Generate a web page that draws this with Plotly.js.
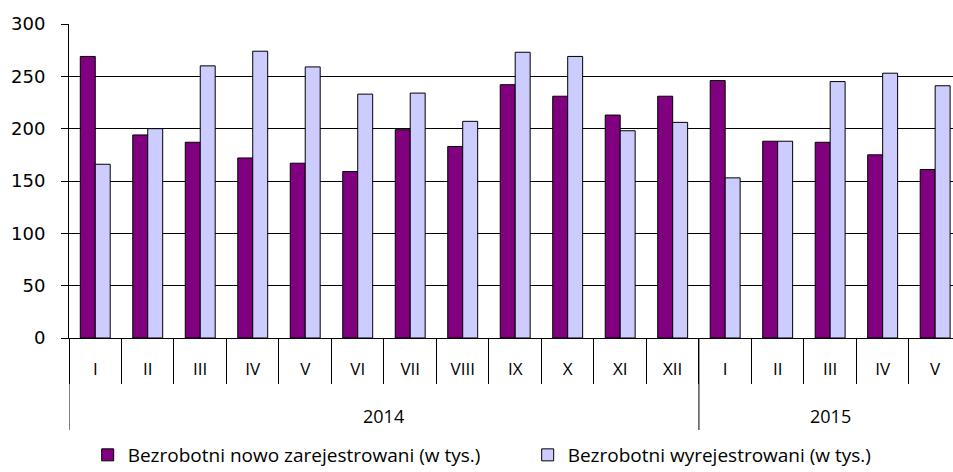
<!DOCTYPE html>
<html>
<head>
<meta charset="utf-8">
<script src="https://cdn.plot.ly/plotly-3.0.1.min.js"></script>
<style>html,body{margin:0;padding:0;background:#fff;}#chart{width:953px;height:472px;}</style>
</head>
<body>
<div id="chart"></div>
<script>
const years = ["2014","2014","2014","2014","2014","2014","2014","2014","2014","2014","2014","2014","2015","2015","2015","2015","2015"];
const months = ["I","II","III","IV","V","VI","VII","VIII","IX","X","XI","XII","I","II","III","IV","V"];
const nowoZarejestrowani = [269, 194, 187, 172, 167, 159, 199, 183, 242, 231, 213, 231, 246, 188, 187, 175, 161];
const wyrejestrowani = [166, 200, 260, 274, 259, 233, 234, 207, 273, 269, 198, 206, 153, 188, 245, 253, 241];
const seriesNames = ["Bezrobotni nowo zarejestrowani (w tys.)", "Bezrobotni wyrejestrowani (w tys.)"];

const idx = months.map((m, i) => i);
const boundaries = idx.map(i => i - 0.5).concat([months.length - 0.5]);

// year groups
const yearList = [...new Set(years)];
const groups = yearList.map(y => {
  const ii = idx.filter(i => years[i] === y);
  return {year: y, first: ii[0], last: ii[ii.length - 1], mid: (ii[0] + ii[ii.length - 1]) / 2};
});

const labelFont = "Open Sans, Noto Sans, sans-serif";

const traces = [
  {type:"bar", name:seriesNames[0], x:idx, y:nowoZarejestrowani,
   marker:{color:"#800080", line:{color:"#000000", width:1}}},
  {type:"bar", name:seriesNames[1], x:idx, y:wyrejestrowani,
   marker:{color:"#CCCCFF", line:{color:"#000000", width:1}}}
];

const yBottom = -92 / 314; // divider depth below axis in paper units

const shapes = [];
groups.forEach(g => {
  shapes.push({type:"line", xref:"x", yref:"paper", x0:g.first - 0.5, x1:g.first - 0.5, y0:0, y1:yBottom,
               line:{color:"#000", width:1}});
});
shapes.push({type:"line", xref:"x", yref:"paper", x0:months.length - 0.5, x1:months.length - 0.5, y0:0, y1:yBottom,
             line:{color:"#000", width:1}});

const annotations = groups.map(g => ({
  xref:"x", yref:"paper", x:g.mid, y:-78 / 314, yanchor:"middle", xanchor:"center",
  text:g.year, showarrow:false, font:{family:labelFont, size:18, color:"#000"}
}));

const layout = {
  width:953, height:472,
  margin:{l:69, r:0, t:24, b:134},
  paper_bgcolor:"#fff", plot_bgcolor:"#fff",
  barmode:"group", bargap:0.43, bargroupgap:0,
  showlegend:true,
  legend:{orientation:"h", xref:"container", yref:"container", x:0.092, xanchor:"left", y:0.036, yanchor:"middle",
          bgcolor:"rgba(0,0,0,0)",
          font:{family:labelFont, size:19, color:"#000"}, traceorder:"normal", entrywidth:395, itemwidth:30},
  xaxis:{type:"linear", range:[-0.5, 16.34], showline:true, linecolor:"#000", linewidth:1,
         tickmode:"array", tickvals:idx, ticktext:months, ticks:"", ticklabelstandoff:16,
         minor:{tickmode:"array", tickvals:boundaries, ticks:"outside", ticklen:45, tickcolor:"#000", tickwidth:1, showgrid:false},
         tickfont:{family:labelFont, size:17, color:"#000"}, showgrid:false, zeroline:false, automargin:false},
  yaxis:{range:[0,300], dtick:50, showline:true, linecolor:"#000", linewidth:1,
         ticks:"outside", ticklen:7, tickcolor:"#000", ticklabelstandoff:12,
         showgrid:true, gridcolor:"#000", gridwidth:1, zeroline:true, zerolinecolor:"#000",
         tickfont:{family:"DejaVu Sans, Verdana, sans-serif", size:18, color:"#000"}, automargin:false},
  shapes:shapes,
  annotations:annotations
};

Plotly.newPlot("chart", traces, layout, {staticPlot:true, displayModeBar:false});
</script>
</body>
</html>
